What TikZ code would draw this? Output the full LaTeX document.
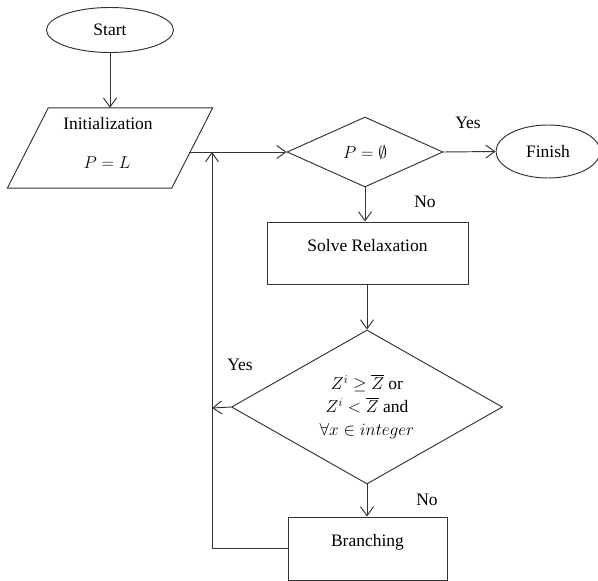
\documentclass[tikz,border=0pt]{standalone}
\usepackage{fontspec}
\setmainfont{Liberation Serif}
\usepackage{amssymb}
\usetikzlibrary{shapes.geometric,arrows.meta}
\begin{document}
\begin{tikzpicture}[x=1pt,y=-1pt,
  every node/.style={font=\fontsize{17.5}{23}\selectfont, inner sep=0pt},
  line/.style={draw=black!80, line width=0.95pt},
  arr/.style={line, -{Straight Barb[length=9pt,width=13pt,line width=0.95pt]}},
  oval/.style={ellipse, line},
  dia/.style={diamond, line},
  procbox/.style={rectangle, line, text depth=16pt},
  lbl/.style={font=\fontsize{17.5}{21}\selectfont}]
\useasboundingbox (0,0) rectangle (598,581);
% nodes
\node[oval, minimum width=127pt, minimum height=45pt] (start) at (110,30) {Start};
\node[minimum width=205pt, minimum height=80pt] (init) at (110,148) {};
\draw[line] ([xshift=41pt]init.north west) -- (init.north east)
  -- ([xshift=-41pt]init.south east) -- (init.south west) -- cycle;
\node (initT) at (108,124) {Initialization};
\node (initM) at (107,163) {$P=L$};
\node[dia, minimum width=156pt, minimum height=70pt, aspect=2.2] (d1) at (365,152) {$P=\emptyset$};
\node[oval, minimum width=104pt, minimum height=53pt] (finish) at (548,151.5) {Finish};
\node[procbox, minimum width=201pt, minimum height=62pt] (solve) at (367.5,253) {Solve Relaxation};
\node[dia, minimum width=271pt, minimum height=154pt, aspect=1.76, align=center] (d2) at (367,407)
  {$Z^i\geq\overline{Z}$ or\\ $Z^i<\overline{Z}$ and\\ $\forall x\in integer$};
\node[procbox, minimum width=159pt, minimum height=63pt] (branch) at (367.5,548.5) {Branching};
% labels
\node[lbl] (yes1) at (468,123) {Yes};
\node[lbl] (no1) at (425,202) {No};
\node[lbl] (yes2) at (240,365) {Yes};
\node[lbl] (no2) at (427,500) {No};
% coordinates
\coordinate (initout) at (189,152);
\coordinate (j1) at (212,152);
\coordinate (j2) at (212,408);
% connectors
\draw[arr] (start.south) -- (init.north);
\draw[arr] (initout) -- (d1.west);
\draw[arr] (d1.east) -- (finish.west);
\draw[arr] (d1.south) -- (solve.north -| d1.south);
\draw[arr] (solve.south -| d2.north) -- (d2.north);
\draw[arr] (d2.west) -- (j2);
\draw[arr] (d2.south) -- (branch.north -| d2.south);
\draw[arr] (branch.west) -| (j1);
\end{tikzpicture}
\end{document}
